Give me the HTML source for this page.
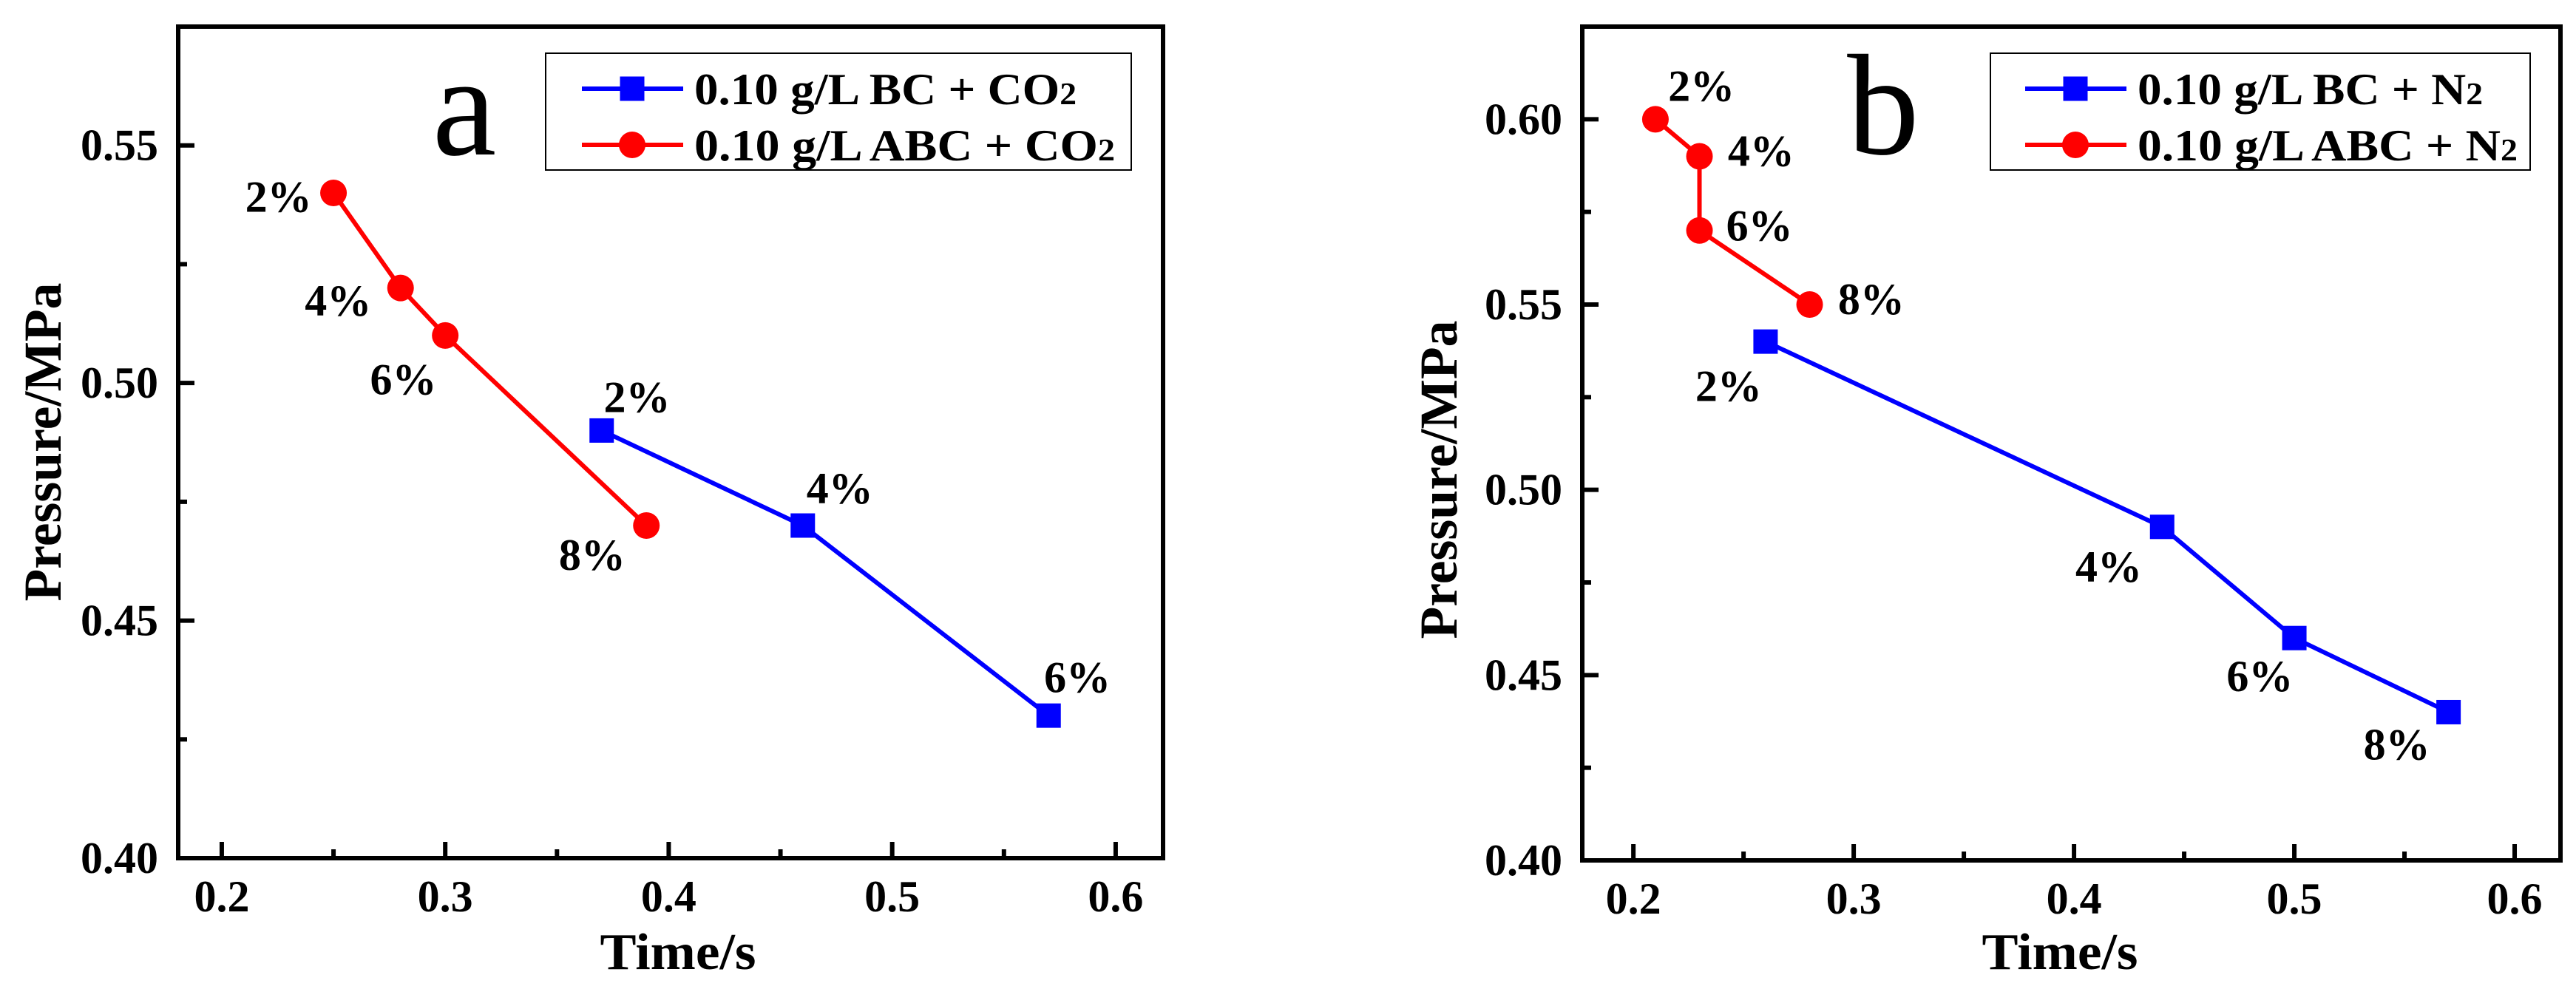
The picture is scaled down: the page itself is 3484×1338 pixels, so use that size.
<!DOCTYPE html>
<html><head><meta charset="utf-8"><style>
html,body{margin:0;padding:0;background:#fff;}
svg{display:block;font-family:"Liberation Serif",serif;font-weight:bold;}
</style></head><body>
<svg id="chart" width="3484" height="1338" viewBox="0 0 3484 1338" xmlns="http://www.w3.org/2000/svg"></svg>
<script>
// Panel a data
const aXTicks = [0.2, 0.3, 0.4, 0.5, 0.6];
const aYTicks = [0.40, 0.45, 0.50, 0.55];
const aBCx = [0.37, 0.46, 0.57];
const aBCy = [0.49, 0.47, 0.43];
const aBCLabels = ['2%', '4%', '6%'];
const aABCx = [0.25, 0.28, 0.30, 0.39];
const aABCy = [0.54, 0.52, 0.51, 0.47];
const aABCLabels = ['2%', '4%', '6%', '8%'];
// Panel b data
const bXTicks = [0.2, 0.3, 0.4, 0.5, 0.6];
const bYTicks = [0.40, 0.45, 0.50, 0.55, 0.60];
const bBCx = [0.26, 0.44, 0.50, 0.57];
const bBCy = [0.54, 0.49, 0.46, 0.44];
const bBCLabels = ['2%', '4%', '6%', '8%'];
const bABCx = [0.21, 0.23, 0.23, 0.28];
const bABCy = [0.60, 0.59, 0.57, 0.55];
const bABCLabels = ['2%', '4%', '6%', '8%'];

const SX = 1.111, SY = 0.854;
const NS = 'http://www.w3.org/2000/svg';
const svg = document.getElementById('chart');
function mk(tag, attrs, parent){
  const e = document.createElementNS(NS, tag);
  for (const k in attrs) e.setAttribute(k, attrs[k]);
  (parent||svg).appendChild(e);
  return e;
}
function txt(str, x, y, size, anchor, len, parent){
  const t = mk('text', {x:x, y:y, 'font-size':size, 'text-anchor':anchor||'middle'}, parent);
  if (len) { t.setAttribute('textLength', len); t.setAttribute('lengthAdjust', 'spacingAndGlyphs'); }
  t.textContent = str;
  return t;
}

function panel(cfg){
  const g = mk('g', {});
  
  
  const X = v => cfg.L + (v - cfg.x0) / (cfg.x1 - cfg.x0) * (cfg.R - cfg.L);
  const Y = v => cfg.B - (v - cfg.y0) / (cfg.y1 - cfg.y0) * (cfg.B - cfg.T);
  cfg.xt.forEach((v, i) => {
    const l = mk('line', {x1:X(v), x2:X(v), y1:cfg.B, y2:cfg.B-22, stroke:'#000','stroke-width':6}, g);
    
    
    if (i < cfg.xt.length - 1) {
      const m = mk('line', {x1:X(v+0.05), x2:X(v+0.05), y1:cfg.B, y2:cfg.B-12, stroke:'#000','stroke-width':6}, g);
      
      
    }
    const t = txt(v.toFixed(1), X(v), cfg.B + 72, 60, 'middle', null, g);
    
    
  });
  cfg.yt.forEach((v) => {
    const l = mk('line', {x1:cfg.L, x2:cfg.L+22, y1:Y(v), y2:Y(v), stroke:'#000','stroke-width':6}, g);
    
    
    const mv = v + 0.025;
    if (mv < cfg.y1) {
      const m = mk('line', {x1:cfg.L, x2:cfg.L+12, y1:Y(mv), y2:Y(mv), stroke:'#000','stroke-width':6}, g);
      
      
    }
    const t = txt(v.toFixed(2), cfg.L-27, Y(v)+20, 60, 'end', null, g);
    
    
  });
  const f = mk('rect', {x:cfg.L, y:cfg.T, width:cfg.R-cfg.L, height:cfg.B-cfg.T, fill:'none', stroke:'#000', 'stroke-width':6}, g);
  
  
  function series(xs, ys, labels, offs, color, shape, nm){
    const sg = mk('g', {}, g);
    
    
    const pts = xs.map((x, i) => X(x) + ',' + Y(ys[i])).join(' ');
    const pl = mk('polyline', {points:pts, fill:'none', stroke:color, 'stroke-width':6, 'stroke-linejoin':'round'}, sg);
    
    
    xs.forEach((x, i) => {
      const cx = X(x), cy = Y(ys[i]);
      let m;
      if (shape === 'sq') m = mk('rect', {x:cx-16.5, y:cy-16.5, width:33, height:33, fill:color}, sg);
      else m = mk('circle', {cx:cx, cy:cy, r:18, fill:color}, sg);
      
      
      const o = offs[i];
      const t = txt(labels[i], cx + o[0]*SX, cy + o[1]*SY, 60, 'middle', null, sg);
      
      
    });
  }
  series(cfg.abcx, cfg.abcy, cfg.abcl, cfg.abco, '#ff0000', 'ci', 'abc-series');
  series(cfg.bcx, cfg.bcy, cfg.bcl, cfg.bco, '#0000ff', 'sq', 'bc-series');
  const lg = mk('g', {}, g);
  
  
  const lb = cfg.leg;
  mk('rect', {x:lb.x, y:72, width:lb.w, height:158, fill:'#fff', stroke:'#000', 'stroke-width':2}, lg);
  [[120,'#0000ff','sq',lb.t1,lb.w1],[196,'#ff0000','ci',lb.t2,lb.w2]].forEach(r => {
    const e = mk('g', {}, lg);
    
    
    mk('line', {x1:lb.lx, x2:lb.lx+137, y1:r[0], y2:r[0], stroke:r[1], 'stroke-width':6}, e);
    const mx = lb.lx + 68;
    if (r[2]==='sq') mk('rect', {x:mx-16.5, y:r[0]-16.5, width:33, height:33, fill:r[1]}, e);
    else mk('circle', {cx:mx, cy:r[0], r:18, fill:r[1]}, e);
    const t = mk('text', {x:lb.lx+152, y:r[0]+21, 'font-size':60, 'textLength':r[4], 'lengthAdjust':'spacingAndGlyphs'}, e);
    t.innerHTML = r[3];
  });
  const pl = txt(cfg.letter, cfg.letX, cfg.letY, 195, 'middle', null, g);
  pl.setAttribute('font-weight', 'normal');
  
  
  const xt = txt('Time/s', cfg.xtX, 1311, 70, 'middle', 211, g);
  
  
  const yt = txt('Pressure/MPa', 0, 0, 72, 'middle', 431, g);
  yt.setAttribute('transform', 'translate(' + cfg.ytX + ',' + cfg.ytY + ') rotate(-90)');
  
  
}

panel({
  name:'panel-a', L:241, R:1573, T:36, B:1161, x0:0.1805, x1:0.6212, y0:0.40, y1:0.575,
  xt:aXTicks, yt:aYTicks,
  bcx:aBCx, bcy:aBCy, bcl:aBCLabels, bco:[[43,-29],[45,-35],[35,-37]],
  abcx:aABCx, abcy:aABCy, abcl:aABCLabels, abco:[[-67,30],[-76,44],[-51,93],[-66,70]],
  leg:{x:738, w:792, lx:787, t1:'0.10 g/L BC + CO<tspan font-size="42">2</tspan>', w1:517, t2:'0.10 g/L ABC + CO<tspan font-size="42">2</tspan>', w2:569},
  letter:'a', letX:628, letY:209, xtX:917, ytX:82, ytY:598
});
panel({
  name:'panel-b', L:2140, R:3463, T:36, B:1164, x0:0.1768, x1:0.6208, y0:0.40, y1:0.625,
  xt:bXTicks, yt:bYTicks,
  bcx:bBCx, bcy:bBCy, bcl:bBCLabels, bco:[[-45,94],[-65,87],[-42,84],[-63,75]],
  abcx:bABCx, abcy:bABCy, abcl:bABCLabels, abco:[[56,-29],[75,15],[73,16],[75,15]],
  leg:{x:2692, w:730, lx:2739, t1:'0.10 g/L BC + N<tspan font-size="42">2</tspan>', w1:467, t2:'0.10 g/L ABC + N<tspan font-size="42">2</tspan>', w2:514},
  letter:'b', letX:2547, letY:208, xtX:2786, ytX:1970, ytY:649
});
</script>
</body></html>
